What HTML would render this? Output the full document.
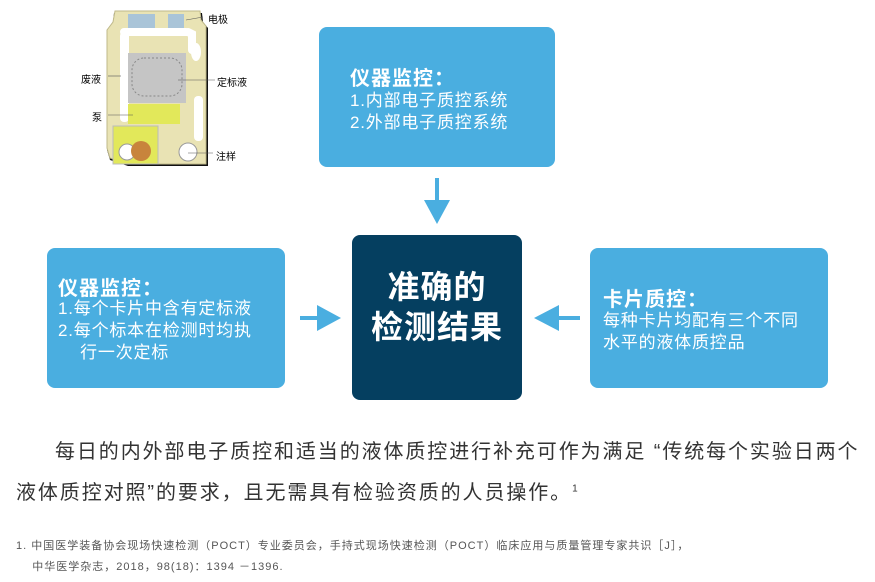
<!DOCTYPE html>
<html><head><meta charset="utf-8"><style>
body{margin:0;width:875px;height:582px;background:#fff;position:relative;overflow:hidden;font-family:"Liberation Sans","Noto Sans CJK SC",sans-serif}
.b{position:absolute;background:#4aaee0;border-radius:8px;color:#fff}
.t{position:absolute;white-space:nowrap}
.h{font-size:20px;font-weight:bold;color:#fff;letter-spacing:1px}
.s{font-size:17px;line-height:22px;color:#fff;letter-spacing:0.8px}
</style></head><body>
<svg style="position:absolute;left:0;top:0" width="875" height="582">
<path d="M114,13 L202,13 L203,22 L208,28 L208,166 L128,166 L110,160 L107,150 L107,30 L113,22 Z" fill="#111"/>
<path d="M115,11 L200,11 L201,20 L206,26 L206,164 L130,164 L110,158 L107,148 L107,30 L113,22 Z" fill="#e9e3b4" stroke="#bfb98a"/>
<rect x="128" y="14" width="27" height="14" fill="#a9c4d8"/>
<rect x="168" y="14" width="16" height="14" fill="#a9c4d8"/>
<path d="M124,32 L186,32 M188,32 L192,34 L192,50" stroke="#fff" stroke-width="8" fill="none" stroke-linecap="round"/>
<rect x="120" y="32" width="9" height="90" rx="4" fill="#fff"/>
<rect x="194" y="96" width="9" height="45" rx="4" fill="#fff"/>
<ellipse cx="196" cy="52" rx="5" ry="9" fill="#fff"/>
<rect x="128" y="53" width="58" height="50" fill="#c5c5c5"/>
<rect x="132" y="58" width="50" height="38" rx="12" fill="none" stroke="#888" stroke-dasharray="2,2"/>
<rect x="128" y="104" width="52" height="20" fill="#e2e85a"/>
<rect x="113" y="126" width="45" height="38" fill="#e2e85a" stroke="#bbb"/>
<circle cx="127" cy="152" r="8" fill="#fff" stroke="#999"/>
<circle cx="141" cy="151" r="10" fill="#c8843c"/>
<circle cx="188" cy="152" r="9" fill="#fff" stroke="#999"/>
<g stroke="#555" stroke-width="0.6"><line x1="108" y1="76" x2="121" y2="76"/><line x1="178" y1="80" x2="215" y2="80"/><line x1="108" y1="115" x2="133" y2="115"/><line x1="188" y1="153" x2="213" y2="153"/><line x1="186" y1="20" x2="203" y2="17"/></g>
<g fill="#4aaee0">
<rect x="435" y="178" width="4" height="23"/><polygon points="424,200 450,200 437,224"/>
<rect x="300" y="316" width="18" height="4"/><polygon points="317,305 341,318 317,331"/>
<rect x="558" y="316" width="22" height="4"/><polygon points="559,305 534,318 559,331"/>
</g>
</svg>
<div class="t" style="left:208px;top:11px;font-size:10px">电极</div>
<div class="t" style="left:81px;top:71px;font-size:10px">废液</div>
<div class="t" style="left:217px;top:74px;font-size:10px">定标液</div>
<div class="t" style="left:92px;top:109px;font-size:10px">泵</div>
<div class="t" style="left:216px;top:148px;font-size:10px">注样</div>

<div class="b" style="left:319px;top:27px;width:236px;height:140px"></div>
<div class="t h" style="left:350px;top:62px">仪器监控：</div>
<div class="t s" style="left:350px;top:90px">1.内部电子质控系统<br>2.外部电子质控系统</div>

<div class="b" style="left:47px;top:248px;width:238px;height:140px"></div>
<div class="t h" style="left:58px;top:272px">仪器监控：</div>
<div class="t s" style="left:58px;top:298px">1.每个卡片中含有定标液<br>2.每个标本在检测时均执<br>&nbsp;&nbsp;&nbsp;&nbsp;行一次定标</div>

<div style="position:absolute;left:352px;top:235px;width:170px;height:165px;background:#053f60;border-radius:8px"></div>
<div class="t" style="left:352px;width:170px;top:267px;font-size:32px;font-weight:bold;color:#fff;text-align:center;line-height:40px;letter-spacing:1px">准确的<br>检测结果</div>

<div class="b" style="left:590px;top:248px;width:238px;height:140px"></div>
<div class="t h" style="left:603px;top:283px">卡片质控：</div>
<div class="t s" style="left:603px;top:310px">每种卡片均配有三个不同<br>水平的液体质控品</div>

<div class="t" style="left:55px;top:435px;font-size:20px;color:#333;letter-spacing:1.9px">每日的内外部电子质控和适当的液体质控进行补充可作为满足 “传统每个实验日两个</div>
<div class="t" style="left:16px;top:476px;font-size:20px;color:#333;letter-spacing:1.9px">液体质控对照”的要求，且无需具有检验资质的人员操作。<sup style="font-size:10px">1</sup></div>
<div class="t" style="left:16px;top:536px;font-size:11px;color:#555;line-height:21px;letter-spacing:1px">1. 中国医学装备协会现场快速检测（POCT）专业委员会，手持式现场快速检测（POCT）临床应用与质量管理专家共识［J］，<br>&nbsp;&nbsp;&nbsp;&nbsp;中华医学杂志，2018，98(18)：1394 －1396.</div>
</body></html>
